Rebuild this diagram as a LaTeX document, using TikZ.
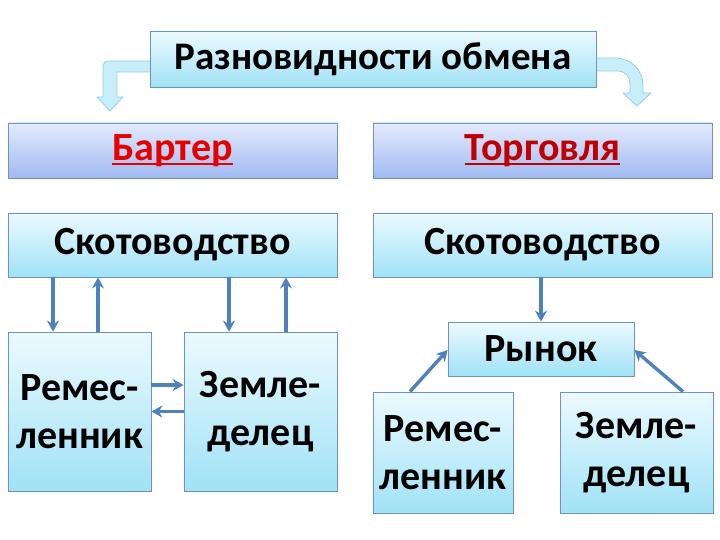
\documentclass[tikz,border=0pt]{standalone}
\usepackage{fontspec}
\setmainfont{Carlito}
\usepackage{tikz}
\usetikzlibrary{arrows.meta,calc}
\definecolor{cyanTop}{RGB}{236,250,254}
\definecolor{cyanBot}{RGB}{160,226,246}
\definecolor{lavTop}{RGB}{228,234,252}
\definecolor{lavBot}{RGB}{160,186,242}
\definecolor{boxLine}{RGB}{112,146,190}
\definecolor{flowBlue}{RGB}{79,129,189}
\definecolor{bentFill}{RGB}{200,238,250}
\definecolor{bentLine}{RGB}{150,205,232}
\definecolor{barterRed}{RGB}{230,0,0}
\definecolor{tradeRed}{RGB}{192,0,0}
\newcommand{\ulword}[1]{\setbox0\hbox{#1}\rlap{\raisebox{-5pt}{\rule{\wd0}{2.2pt}}}\box0}

\tikzset{
  cyanbox/.style={draw=boxLine, line width=0.8pt, top color=cyanTop, bottom color=cyanBot,
    inner sep=0pt, align=center, font=\fontsize{40}{48}\selectfont\bfseries},
  lavbox/.style={cyanbox, top color=lavTop, bottom color=lavBot},
  flow/.style={-{Stealth[length=11pt,width=12pt]}, line width=3.4pt, flowBlue},
  bent/.style={fill=bentFill, draw=bentLine, line width=0.8pt, line join=round}
}

\begin{document}
\begin{tikzpicture}[x=1pt, y=-1pt]
  \fill[white] (0,0) rectangle (720,540);
  \useasboundingbox (0,0) rectangle (720,540);
  % Bent arrows from the title
  \draw[bent] (153,61) -- (109,61) .. controls (105,61) and (103,63) .. (103,67) -- (103,97)
    -- (97,97) -- (110,111) -- (123,97) -- (117,97) -- (117,72) -- (153,72) -- cycle;
  \draw[bent] (594,58) -- (615,58) .. controls (631,58) and (643,70) .. (643,86) -- (643,93)
    -- (651,93) -- (637,106) -- (623,93) -- (630,93) -- (630,84)
    .. controls (630,76) and (625,71) .. (617,71) -- (594,71) -- cycle;
  % Title
  \node[cyanbox, minimum width=446pt, minimum height=56pt, font=\fontsize{39}{48}\selectfont\bfseries]
    (kinds) at (373,59) {Разновидности обмена};
  % Two kinds
  \node[lavbox, minimum width=329pt, minimum height=55pt] (barter) at (172.5,150.5)
    {\color{barterRed}\ulword{Бартер}};
  \node[lavbox, minimum width=339pt, minimum height=55pt] (trade) at (542.5,150.5)
    {\color{tradeRed}\ulword{Торговля}};
  \node[cyanbox, minimum width=329pt, minimum height=64pt] (cattle1) at (172.5,245) {Скотоводство};
  \node[cyanbox, minimum width=339pt, minimum height=64pt] (cattle2) at (542.5,245) {Скотоводство};
  % Barter side
  \node[cyanbox, minimum width=143pt, minimum height=159pt] (craft1) at (79.5,411.5) {Ремес-\\ленник};
  \node[cyanbox, minimum width=153pt, minimum height=159pt] (farm1) at (260.5,411.5) {Земле-\\делец};
  % Trade side
  \node[cyanbox, minimum width=186pt, minimum height=54pt] (market) at (541,349) {Рынок};
  \node[cyanbox, minimum width=140pt, minimum height=121pt] (craft2) at (443,452.5) {Ремес-\\ленник};
  \node[cyanbox, minimum width=153pt, minimum height=121pt] (farm2) at (636.5,452.5) {Земле-\\делец};
  % Exchange arrows
  \draw[flow] ([xshift=-26.5pt]craft1.north |- cattle1.south) -- ([xshift=-26.5pt]craft1.north);
  \draw[flow] ([xshift=18.5pt]craft1.north) -- ([xshift=18.5pt]craft1.north |- cattle1.south);
  \draw[flow] ([xshift=-31.5pt]farm1.north |- cattle1.south) -- ([xshift=-31.5pt]farm1.north);
  \draw[flow] ([xshift=25.5pt]farm1.north) -- ([xshift=25.5pt]farm1.north |- cattle1.south);
  \draw[flow] ([yshift=26.5pt]craft1.east) -- ([yshift=26.5pt]craft1.east -| farm1.west);
  \draw[flow] (farm1.west) -- (farm1.west -| craft1.east);
  \draw[flow] (cattle2.south -| market.north) -- (market.north);
  \draw[flow] ([xshift=-33pt]craft2.north) -- ([yshift=-1pt]market.west);
  \draw[flow] ([xshift=46.5pt]farm2.north) -- ([yshift=-1pt]market.east);
\end{tikzpicture}
\end{document}
